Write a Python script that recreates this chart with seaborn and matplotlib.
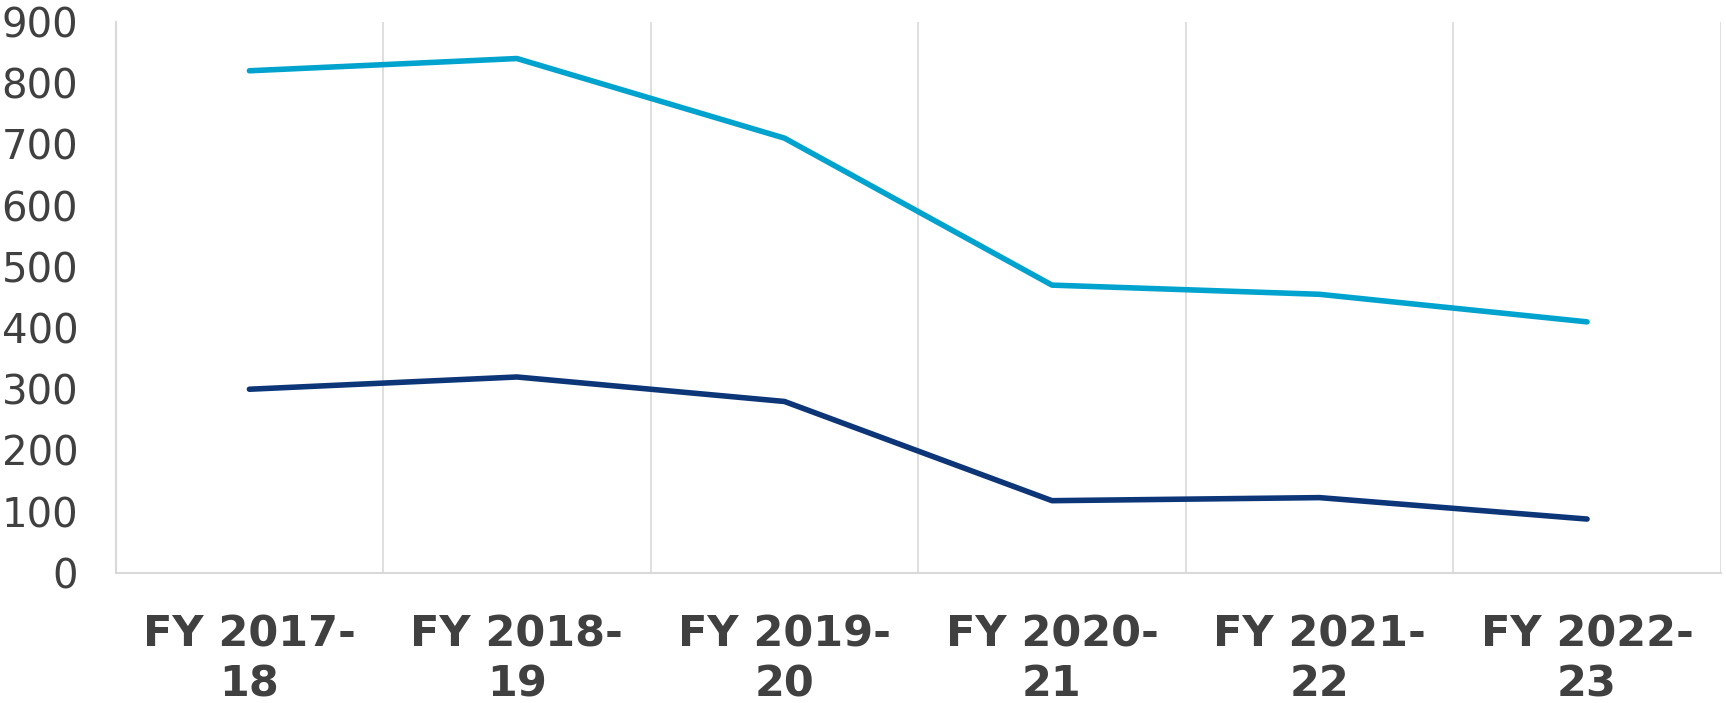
import matplotlib
matplotlib.use("Agg")
import matplotlib.pyplot as plt
import seaborn as sns
import pandas as pd

# valeurs
years = ["FY 2017-\n18", "FY 2018-\n19", "FY 2019-\n20", "FY 2020-\n21", "FY 2021-\n22", "FY 2022-\n23"]
upper_values = [820, 840, 710, 470, 455, 410]
lower_values = [300, 320, 280, 118, 123, 88]

upper_color = "#00A3CE"
lower_color = "#0D3678"
text_color = "#404040"
grid_color = "#D9D9D9"

sns.set_theme(style="white")
plt.rcParams["font.family"] = ["DejaVu Sans"]

df = pd.DataFrame({
    "x": list(range(len(years))) * 2,
    "value": upper_values + lower_values,
    "series": ["upper"] * len(years) + ["lower"] * len(years),
})

fig = plt.figure(figsize=(17.26, 7.03), dpi=100)
ax = fig.add_axes([0.067, 0.185, 0.93, 0.784])

sns.lineplot(data=df, x="x", y="value", hue="series",
             palette={"upper": upper_color, "lower": lower_color},
             linewidth=4.0, legend=False, ax=ax, solid_capstyle="round")

ax.set_xlim(-0.5, len(years) - 0.5)
ax.set_ylim(0, 900)
ax.set_yticks(range(0, 901, 100))
ax.set_xticks(range(len(years)))
ax.set_xticklabels(years, fontsize=31, fontweight="bold", color=text_color, linespacing=1.25)
ax.tick_params(axis="y", labelsize=29, labelcolor=text_color, length=0, pad=27)
ax.tick_params(axis="x", length=0, pad=29)
ax.set_xlabel("")
ax.set_ylabel("")

# lignes verticales entre les catégories
for b in range(1, len(years) + 1):
    ax.axvline(b - 0.5, color=grid_color, linewidth=1.2, zorder=0)

for side in ["top", "right"]:
    ax.spines[side].set_visible(False)
for side in ["left", "bottom"]:
    ax.spines[side].set_color(grid_color)
    ax.spines[side].set_linewidth(1.5)

fig.savefig("out.png", dpi=100, facecolor="white")
